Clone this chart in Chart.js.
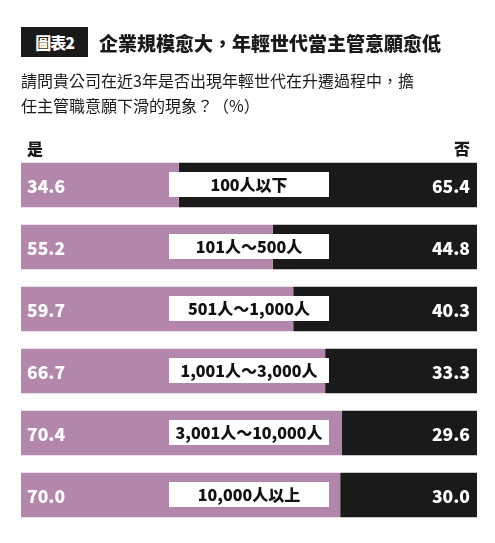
<!DOCTYPE html>
<html>
<head>
<meta charset="utf-8">
<script src="https://cdn.jsdelivr.net/npm/chart.js@4"></script>
<style>
body{margin:0;background:#fff;font-family:"Noto Sans CJK TC","Noto Sans",sans-serif}
#wrap{position:relative;width:495px;height:543px}
.t{position:absolute;white-space:nowrap;color:#1a1a1a}
</style>
</head>
<body>
<div id="wrap">
<div class="t" style="left:21px;top:27px;width:67px;height:30px;background:#1a1a1a;color:#fff;font-weight:900;font-size:16px;line-height:30px;text-align:center;letter-spacing:-1px">圖表2</div>
<div class="t" style="left:99px;top:31px;font-weight:900;font-size:19px;line-height:24px">企業規模愈大，年輕世代當主管意願愈低</div>
<div class="t" style="left:21px;top:68px;font-size:16px;line-height:25px">請問貴公司在近3年是否出現年輕世代在升遷過程中，擔<br>任主管職意願下滑的現象？（%）</div>
<div class="t" style="left:27px;top:137px;font-weight:900;font-size:16px;line-height:22px">是</div>
<div class="t" style="right:25px;top:137px;font-weight:900;font-size:16px;line-height:22px">否</div>
<canvas id="chart"></canvas>
</div>
<script>
const categories = ["100人以下","101人～500人","501人～1,000人","1,001人～3,000人","3,001人～10,000人","10,000人以上"]
const yesValues = [34.6,55.2,59.7,66.7,70.4,70.0]
const noValues = [65.4,44.8,40.3,33.3,29.6,30.0]

const FONT = '"Noto Sans CJK TC","Noto Sans",sans-serif'

const labelPlugin = {
  id:"labels",
  afterDatasetsDraw(chart){
    const ctx = chart.ctx
    const x = chart.scales.x
    const area = chart.chartArea
    const yesMeta = chart.getDatasetMeta(0)
    ctx.save()
    yesMeta.data.forEach((bar,i)=>{
      const y = bar.y
      // white box with category name
      const cx = x.getPixelForValue(50)
      ctx.fillStyle = "#fff"
      ctx.fillRect(cx-80, y-13, 160, 25)
      ctx.fillStyle = "#111"
      ctx.font = "900 16px " + FONT
      ctx.textAlign = "center"
      ctx.textBaseline = "middle"
      ctx.fillText(categories[i], cx, y)
      // values
      ctx.fillStyle = "#fff"
      ctx.font = "900 17.5px " + FONT
      ctx.textAlign = "left"
      ctx.fillText(yesValues[i].toFixed(1), area.left+6, y+1)
      ctx.textAlign = "right"
      ctx.fillText(noValues[i].toFixed(1), area.right-7, y+1)
    })
    ctx.restore()
  }
}

new Chart(document.getElementById("chart"),{
  type:"bar",
  data:{
    labels:categories,
    datasets:[
      {label:"是",data:yesValues,backgroundColor:"#b386ab"},
      {label:"否",data:noValues,backgroundColor:"#1a1a1a"}
    ]
  },
  options:{
    indexAxis:"y",
    responsive:true,
    maintainAspectRatio:false,
    animation:false,
    layout:{padding:{left:21,right:18,top:154,bottom:17}},
    scales:{
      x:{stacked:true,min:0,max:100,display:false},
      y:{stacked:true,display:false}
    },
    datasets:{bar:{categoryPercentage:1,barPercentage:0.72,borderWidth:0}},
    plugins:{legend:{display:false},tooltip:{enabled:false}}
  },
  plugins:[labelPlugin]
})
</script>
</body>
</html>
